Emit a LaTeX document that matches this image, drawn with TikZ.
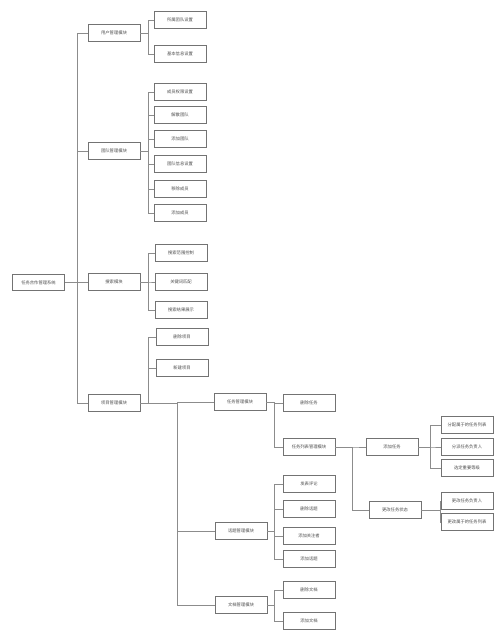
\documentclass[tikz,border=0pt]{standalone}
\usepackage{fontspec}
\newfontfamily\cjk{Noto Sans CJK SC}
\usetikzlibrary{positioning}

\begin{document}
\begin{tikzpicture}[x=1pt, y=-1pt,
        module/.style={rectangle, draw=gray!90!black, fill=white, line width=0.8pt, minimum width=52pt, minimum height=16.5pt, inner sep=1pt, font=\cjk\fontsize{4.3}{5}\selectfont, text=black!70},
        link/.style={draw=gray!90, line width=0.8pt}
    ]
        \useasboundingbox (0,0) rectangle (502,637);

        \node[module] (sys) at (38.5,282.5) {任务合作管理系统};

        \node[module] (user) at (114,33) {用户管理模块};
        \node[module] (team) at (114,151) {团队管理模块};
        \node[module] (search) at (114,282) {搜索模块};
        \node[module] (proj) at (114,403) {项目管理模块};

        \node[module] (u1) at (180,20) {所属团队设置};
        \node[module] (u2) at (180,54) {基本信息设置};

        \node[module] (t1) at (180,92) {成员权限设置};
        \node[module] (t2) at (180,115) {解散团队};
        \node[module] (t3) at (180,139) {添加团队};
        \node[module] (t4) at (180,164) {团队信息设置};
        \node[module] (t5) at (180,189) {移除成员};
        \node[module] (t6) at (180,213) {添加成员};

        \node[module] (s1) at (181,253) {搜索范围控制};
        \node[module] (s2) at (181,282) {关键词匹配};
        \node[module] (s3) at (181,310) {搜索结果展示};

        \node[module] (p1) at (182,337) {删除项目};
        \node[module] (p2) at (182,368) {新建项目};

        \node[module] (task) at (240,402) {任务管理模块};
        \node[module] (topic) at (241,531) {话题管理模块};
        \node[module] (doc) at (241,605) {文档管理模块};

        \node[module] (k1) at (309,403) {删除任务};
        \node[module] (list) at (309,447) {任务列表管理模块};

        \node[module] (add) at (392,447) {添加任务};
        \node[module] (chg) at (395,510) {更改任务状态};

        \node[module] (a1) at (467,425) {分配属于的任务列表};
        \node[module] (a2) at (467,447) {分派任务负责人};
        \node[module] (a3) at (467,468) {选定重要等级};
        \node[module] (c1) at (467,501) {更改任务负责人};
        \node[module] (c2) at (467,522) {更改属于的任务列表};

        \node[module] (h1) at (309,484) {发表评论};
        \node[module] (h2) at (309,509) {删除话题};
        \node[module] (h3) at (309,536) {添加关注者};
        \node[module] (h4) at (309,559) {添加话题};

        \node[module] (d1) at (309,590) {删除文档};
        \node[module] (d2) at (309,621) {添加文档};

        \foreach \c in {user, team, search, proj}
            \draw[link] (sys.east) -- ++(12,0) |- (\c.west);
        \foreach \c in {u1, u2}
            \draw[link] (user.east) -- ++(8,0) |- (\c.west);
        \foreach \c in {t1, t2, t3, t4, t5, t6}
            \draw[link] (team.east) -- ++(8,0) |- (\c.west);
        \foreach \c in {s1, s2, s3}
            \draw[link] (search.east) -- ++(8,0) |- (\c.west);
        \foreach \c in {p1, p2}
            \draw[link] (proj.east) -- ++(8,0) |- (\c.west);
        \foreach \c in {task, topic, doc}
            \draw[link] (proj.east) -- ++(37,0) |- (\c.west);
        \foreach \c in {k1, list}
            \draw[link] (task.east) -- ++(8,0) |- (\c.west);
        \foreach \c in {add, chg}
            \draw[link] (list.east) -- ++(17,0) |- (\c.west);
        \foreach \c in {a1, a2, a3}
            \draw[link] (add.east) -- ++(12,0) |- (\c.west);
        \foreach \c in {c1, c2}
            \draw[link] (chg.east) -- ++(19,0) |- (\c.west);
        \foreach \c in {h1, h2, h3, h4}
            \draw[link] (topic.east) -- ++(7,0) |- (\c.west);
        \foreach \c in {d1, d2}
            \draw[link] (doc.east) -- ++(7,0) |- (\c.west);
    \end{tikzpicture}
\end{document}
